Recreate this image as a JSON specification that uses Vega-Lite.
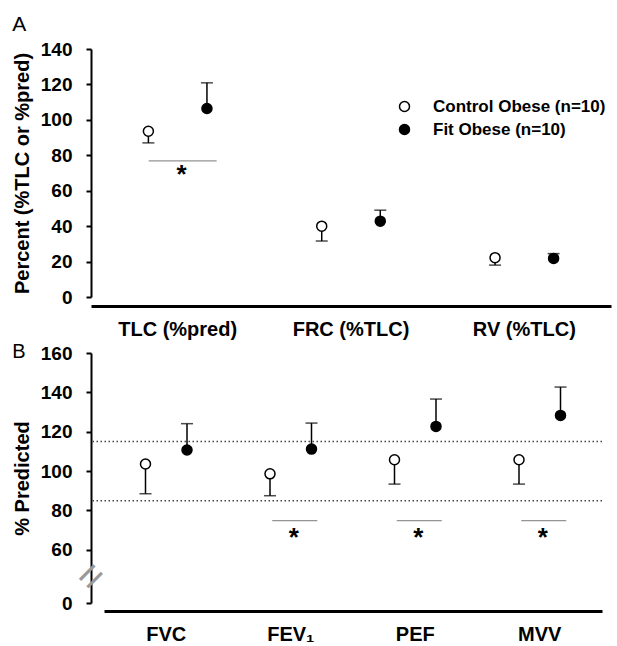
{
  "$schema": "https://vega.github.io/schema/vega-lite/v6.json",
  "padding": {"left": 12, "top": 14, "right": 5, "bottom": 2},
  "background": "white",
  "config": {
    "font": "Liberation Sans",
    "view": {"stroke": null},
    "axis": {"labelColor": "black", "titleColor": "black", "domainColor": "black", "tickColor": "black", "grid": false, "labelFont": "Liberation Sans", "titleFont": "Liberation Sans", "labelOverlap": false}
  },
  "datasets": {
    "a": [
      {"measure": "TLC (%pred)", "group": "Control Obese (n=10)", "mean": 93.6, "err": 87.0},
      {"measure": "TLC (%pred)", "group": "Fit Obese (n=10)", "mean": 106.4, "err": 120.9},
      {"measure": "FRC (%TLC)", "group": "Control Obese (n=10)", "mean": 40.0, "err": 31.6},
      {"measure": "FRC (%TLC)", "group": "Fit Obese (n=10)", "mean": 42.8, "err": 49.0},
      {"measure": "RV (%TLC)", "group": "Control Obese (n=10)", "mean": 22.2, "err": 18.0},
      {"measure": "RV (%TLC)", "group": "Fit Obese (n=10)", "mean": 21.8, "err": 24.5}
    ],
    "asig": [
      {"measure": "TLC (%pred)", "line": 76.9, "star": 68.8}
    ],
    "b": [
      {"measure": "FVC", "group": "Control Obese (n=10)", "mean": 103.6, "err": 88.5},
      {"measure": "FVC", "group": "Fit Obese (n=10)", "mean": 110.7, "err": 124.1},
      {"measure": "FEV₁", "group": "Control Obese (n=10)", "mean": 98.6, "err": 87.5},
      {"measure": "FEV₁", "group": "Fit Obese (n=10)", "mean": 111.2, "err": 124.4},
      {"measure": "PEF", "group": "Control Obese (n=10)", "mean": 105.8, "err": 93.4},
      {"measure": "PEF", "group": "Fit Obese (n=10)", "mean": 122.7, "err": 136.6},
      {"measure": "MVV", "group": "Control Obese (n=10)", "mean": 105.8, "err": 93.4},
      {"measure": "MVV", "group": "Fit Obese (n=10)", "mean": 128.3, "err": 142.7}
    ],
    "bsig": [
      {"measure": "FEV₁", "line": 74.8, "star": 66.1},
      {"measure": "PEF", "line": 74.8, "star": 66.1},
      {"measure": "MVV", "line": 74.8, "star": 66.1}
    ],
    "bref": [{"ref": 85}, {"ref": 115}],
    "bbreak": [{"measure": "FVC", "brk": 46.5}]
  },
  "resolve": {"scale": {"fill": "independent", "xOffset": "independent"}, "legend": {"fill": "independent"}},
  "spacing": 3,
  "vconcat": [
    {
      "title": {"text": "A", "anchor": "start", "frame": "bounds", "fontSize": 21, "fontWeight": "normal", "font": "Liberation Sans", "offset": -12, "baseline": "alphabetic", "color": "black"},
      "width": 520,
      "height": 248,
      "resolve": {"axis": {"y": "independent"}},
      "layer": [
        {
          "data": {"name": "a"},
          "mark": {"type": "rule", "color": "black", "strokeWidth": 1.5},
          "encoding": {
            "x": {"field": "measure", "type": "nominal", "sort": ["TLC (%pred)", "FRC (%TLC)", "RV (%TLC)"], "scale": {"paddingInner": 0, "paddingOuter": 0},
                  "axis": {"title": null, "labelAngle": 0, "domainWidth": 3, "ticks": false, "labelFontSize": 20, "labelFontWeight": "bold", "labelPadding": 13, "offset": 9}},
            "xOffset": {"field": "group", "type": "nominal", "scale": {"paddingInner": 0, "paddingOuter": 0.48}},
            "y": {"field": "mean", "type": "quantitative", "scale": {"domain": [0, 140], "nice": false},
                  "axis": {"orient": "left", "title": "Percent (%TLC or %pred)", "titleFontSize": 20, "titleFontWeight": "bold", "titlePadding": 8, "values": [0, 20, 40, 60, 80, 100, 120, 140], "labelFontSize": 19, "labelFontWeight": "bold", "labelPadding": 14, "tickSize": 5, "tickWidth": 2, "domainWidth": 2, "labelOverlap": false}},
            "y2": {"field": "err"}
          }
        },
        {
          "data": {"name": "a"},
          "mark": {"type": "tick", "color": "black", "size": 12, "thickness": 1.5},
          "encoding": {
            "x": {"field": "measure", "type": "nominal", "sort": ["TLC (%pred)", "FRC (%TLC)", "RV (%TLC)"]},
            "xOffset": {"field": "group", "type": "nominal"},
            "y": {"field": "err", "type": "quantitative", "axis": null}
          }
        },
        {
          "data": {"name": "a"},
          "mark": {"type": "point", "shape": "circle", "filled": true, "size": 100, "stroke": "black", "strokeWidth": 1.5, "opacity": 1},
          "encoding": {
            "x": {"field": "measure", "type": "nominal", "sort": ["TLC (%pred)", "FRC (%TLC)", "RV (%TLC)"]},
            "xOffset": {"field": "group", "type": "nominal"},
            "y": {"field": "mean", "type": "quantitative", "axis": null},
            "fill": {"field": "group", "type": "nominal", "scale": {"domain": ["Control Obese (n=10)", "Fit Obese (n=10)"], "range": ["white", "black"]},
                     "legend": {"orient": "none", "legendX": 305, "legendY": 49, "title": null, "symbolType": "circle", "symbolSize": 100, "symbolStrokeColor": "black", "symbolStrokeWidth": 1.5, "labelFontSize": 17, "labelFontWeight": "bold", "labelOffset": 20, "labelLimit": 0, "rowPadding": 5, "labelColor": "black", "padding": 0, "labelFont": "Liberation Sans"}}
          }
        },
        {
          "data": {"name": "asig"},
          "mark": {"type": "tick", "color": "#666", "size": 68, "thickness": 1.2, "xOffset": 5},
          "encoding": {
            "x": {"field": "measure", "type": "nominal", "sort": ["TLC (%pred)", "FRC (%TLC)", "RV (%TLC)"]},
            "y": {"field": "line", "type": "quantitative", "axis": null}
          }
        },
        {
          "data": {"name": "asig"},
          "mark": {"type": "text", "text": "*", "fontSize": 26, "fontWeight": "bold", "color": "black", "baseline": "middle", "xOffset": 4},
          "encoding": {
            "x": {"field": "measure", "type": "nominal", "sort": ["TLC (%pred)", "FRC (%TLC)", "RV (%TLC)"]},
            "y": {"field": "star", "type": "quantitative", "axis": null}
          }
        }
      ]
    },
    {
      "title": {"text": "B", "anchor": "start", "frame": "bounds", "fontSize": 20, "fontWeight": "normal", "font": "Liberation Sans", "offset": -34, "baseline": "alphabetic", "color": "black"},
      "width": 511,
      "height": 250,
      "resolve": {"axis": {"y": "independent"}},
      "layer": [
        {
          "data": {"name": "b"},
          "mark": {"type": "rule", "color": "black", "strokeWidth": 1.5},
          "encoding": {
            "x": {"field": "measure", "type": "nominal", "sort": ["FVC", "FEV₁", "PEF", "MVV"], "scale": {"paddingInner": 0, "paddingOuter": 0, "range": [13, 511]},
                  "axis": {"title": null, "labelAngle": 0, "domainWidth": 3, "ticks": false, "labelFontSize": 20, "labelFontWeight": "bold", "labelPadding": 13, "offset": 8}},
            "xOffset": {"field": "group", "type": "nominal", "scale": {"paddingInner": 0, "paddingOuter": 0.5}},
            "y": {"field": "mean", "type": "quantitative", "scale": {"domain": [33, 160], "nice": false, "zero": false},
                  "axis": {"orient": "left", "title": "% Predicted", "titleFontSize": 20, "titleFontWeight": "bold", "titlePadding": 8, "values": [33, 60, 80, 100, 120, 140, 160], "labelExpr": "datum.value < 50 ? '0' : datum.label", "labelFontSize": 19, "labelFontWeight": "bold", "labelPadding": 14, "tickSize": 5, "tickWidth": 2, "domainWidth": 2}},
            "y2": {"field": "err"}
          }
        },
        {
          "data": {"name": "bref"},
          "mark": {"type": "rule", "color": "#444", "strokeWidth": 1.5, "strokeDash": [1.5, 2.5]},
          "encoding": {
            "y": {"field": "ref", "type": "quantitative", "axis": null}
          }
        },
        {
          "data": {"name": "b"},
          "mark": {"type": "tick", "color": "black", "size": 12, "thickness": 1.5},
          "encoding": {
            "x": {"field": "measure", "type": "nominal", "sort": ["FVC", "FEV₁", "PEF", "MVV"]},
            "xOffset": {"field": "group", "type": "nominal"},
            "y": {"field": "err", "type": "quantitative", "axis": null}
          }
        },
        {
          "data": {"name": "b"},
          "mark": {"type": "point", "shape": "circle", "filled": true, "size": 100, "stroke": "black", "strokeWidth": 1.5, "opacity": 1},
          "encoding": {
            "x": {"field": "measure", "type": "nominal", "sort": ["FVC", "FEV₁", "PEF", "MVV"]},
            "xOffset": {"field": "group", "type": "nominal"},
            "y": {"field": "mean", "type": "quantitative", "axis": null},
            "fill": {"field": "group", "type": "nominal", "scale": {"domain": ["Control Obese (n=10)", "Fit Obese (n=10)"], "range": ["white", "black"]}, "legend": null}
          }
        },
        {
          "data": {"name": "bsig"},
          "mark": {"type": "tick", "color": "#666", "size": 45, "thickness": 1.2, "xOffset": 4},
          "encoding": {
            "x": {"field": "measure", "type": "nominal", "sort": ["FVC", "FEV₁", "PEF", "MVV"]},
            "y": {"field": "line", "type": "quantitative", "axis": null}
          }
        },
        {
          "data": {"name": "bsig"},
          "mark": {"type": "text", "text": "*", "fontSize": 26, "fontWeight": "bold", "color": "black", "baseline": "middle", "xOffset": 3},
          "encoding": {
            "x": {"field": "measure", "type": "nominal", "sort": ["FVC", "FEV₁", "PEF", "MVV"]},
            "y": {"field": "star", "type": "quantitative", "axis": null}
          }
        },
        {
          "data": {"name": "bbreak"},
          "mark": {"type": "point", "opacity": 0},
          "encoding": {
            "x": {"field": "measure", "type": "nominal", "sort": ["FVC", "FEV₁", "PEF", "MVV"]},
            "y": {"field": "brk", "type": "quantitative",
                  "axis": {"orient": "left", "values": [46.5], "domain": false, "ticks": false, "grid": false, "labelExpr": "'='", "labelAngle": -45, "labelAlign": "center", "labelBaseline": "middle", "labelPadding": 0, "labelFontSize": 42, "labelFontWeight": "normal", "labelColor": "#999", "title": null}}
          }
        }
      ]
    }
  ]
}
